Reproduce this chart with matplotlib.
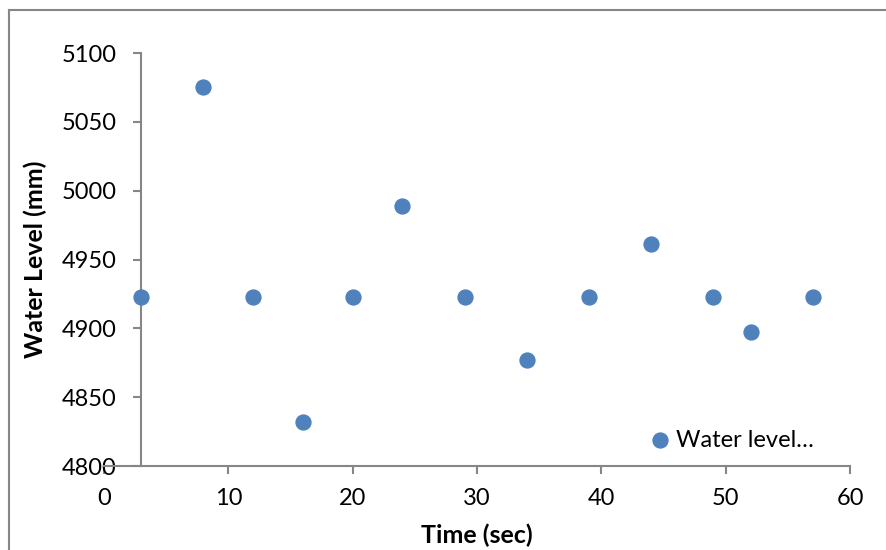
import matplotlib.pyplot as plt
from matplotlib.lines import Line2D

time_sec = [3, 8, 12, 16, 20, 24, 29, 34, 39, 44, 49, 52, 57]
water_level = [4923, 5075, 4923, 4832, 4923, 4989, 4923, 4877, 4923, 4961, 4923, 4897, 4923]

plt.rcParams['font.family'] = ['Lato', 'DejaVu Sans']
grey = '#868686'
blue = '#4F81BD'

fig = plt.figure(figsize=(8.86, 5.5), dpi=100)
ax = fig.add_axes([0.1174, 0.1527, 0.842, 0.7509])

ax.scatter(time_sec, water_level, s=115, color=blue, label='Water level…', zorder=3)

ax.set_xlim(0, 60)
ax.set_ylim(4800, 5100)
ax.set_xticks(range(0, 61, 10))
ax.set_yticks(range(4800, 5101, 50))

# vertical axis crosses at x = 3 like the Excel original
ax.spines['left'].set_position(('data', 3))
ax.spines['top'].set_visible(False)
ax.spines['right'].set_visible(False)
for s in ['left', 'bottom']:
    ax.spines[s].set_color(grey)
    ax.spines[s].set_linewidth(1.5)
ax.tick_params(axis='both', direction='out', length=6, width=1.5, color=grey,
               labelsize=17)
ax.tick_params(axis='y', pad=12)
ax.tick_params(axis='x', pad=10)

ax.set_xlabel('Time (sec)', fontsize=18, fontweight='bold')
ax.xaxis.set_label_coords(0.5, -0.14)
ax.set_ylabel('Water Level (mm)', fontsize=18, fontweight='bold')
ax.yaxis.set_label_coords(-0.076, 0.5)

ax.legend(loc='lower right', bbox_to_anchor=(0.972, 0.0), frameon=False,
          fontsize=17, handletextpad=-0.3, borderaxespad=0.25)

# chart border (only top and left edges visible in the cropped original)
fig.add_artist(Line2D([9 / 886, 1], [1 - 10 / 550] * 2, transform=fig.transFigure,
                      color=grey, linewidth=1.5))
fig.add_artist(Line2D([9 / 886] * 2, [0, 1 - 10 / 550], transform=fig.transFigure,
                      color=grey, linewidth=1.5))

fig.savefig('out.png', dpi=100)
